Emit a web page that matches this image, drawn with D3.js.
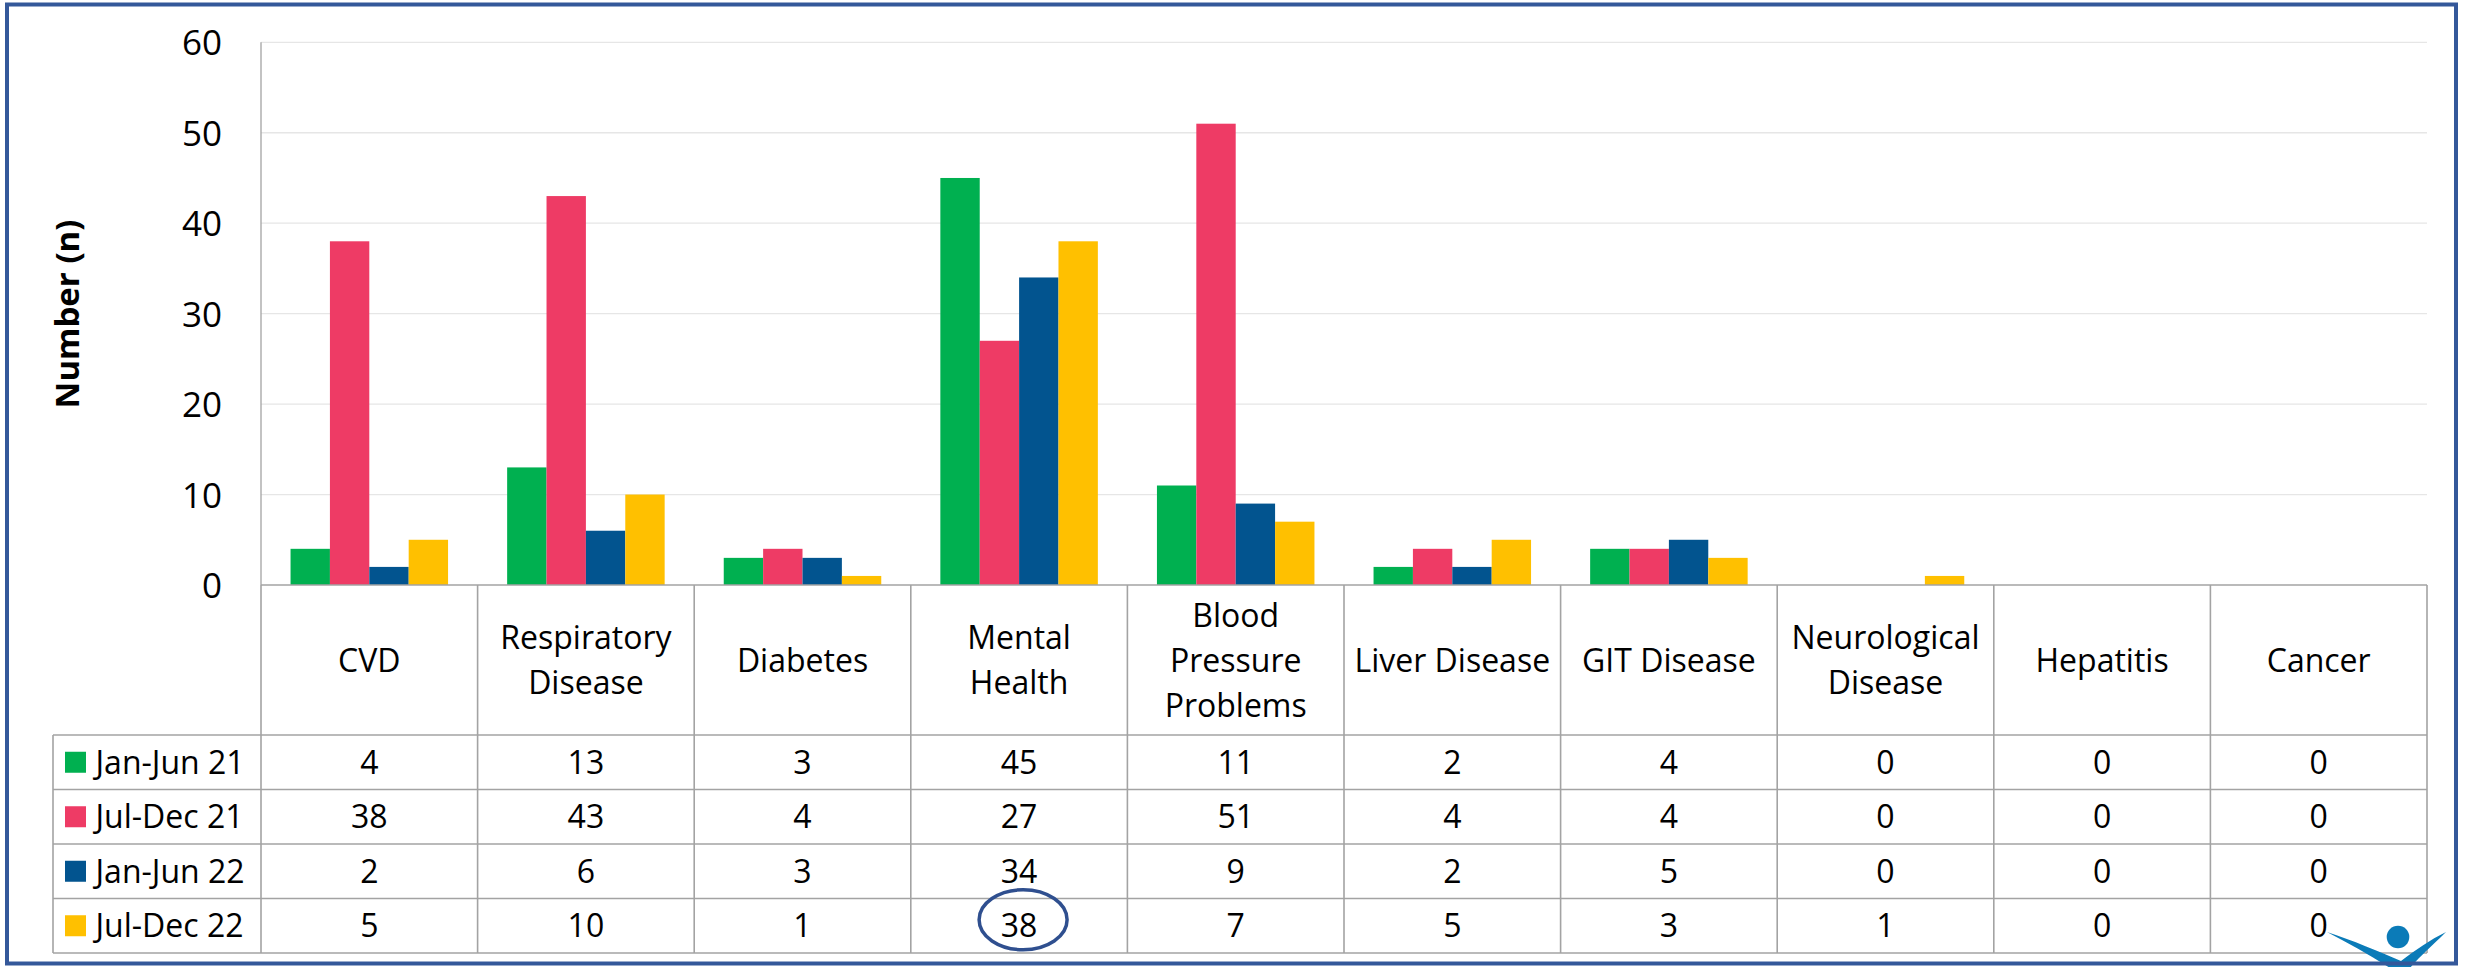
<!DOCTYPE html>
<html>
<head>
<meta charset="utf-8">
<script src="https://cdn.jsdelivr.net/npm/d3@7"></script>
<style>
  body { margin: 0; background: #fff; }
  text { font-family: "Open Sans", sans-serif; fill: #000; }
</style>
</head>
<body>
<div id="chart"></div>
<script>
// Constants for the chart
const WIDTH = 2468;
const HEIGHT = 967;
const PLOT = { left: 261, right: 2427, top: 42.3, bottom: 585 };
const TABLE_LEFT = 53;
const HEADER_BOTTOM = 735;
const ROW_HEIGHT = 54.5;

// Data
const categories = ["CVD", "Respiratory Disease", "Diabetes", "Mental Health", "Blood Pressure Problems",
  "Liver Disease", "GIT Disease", "Neurological Disease", "Hepatitis", "Cancer"];
const headerLines = [["CVD"], ["Respiratory", "Disease"], ["Diabetes"], ["Mental", "Health"],
  ["Blood", "Pressure", "Problems"], ["Liver Disease"], ["GIT Disease"], ["Neurological", "Disease"],
  ["Hepatitis"], ["Cancer"]];
const seriesNames = ["Jan-Jun 21", "Jul-Dec 21", "Jan-Jun 22", "Jul-Dec 22"];
const seriesColors = ["#00B050", "#EE3B65", "#02548F", "#FFC000"];
const janJun21 = [4, 13, 3, 45, 11, 2, 4, 0, 0, 0];
const julDec21 = [38, 43, 4, 27, 51, 4, 4, 0, 0, 0];
const janJun22 = [2, 6, 3, 34, 9, 2, 5, 0, 0, 0];
const julDec22 = [5, 10, 1, 38, 7, 5, 3, 1, 0, 0];
const yTicks = [0, 10, 20, 30, 40, 50, 60];

const seriesValues = [janJun21, julDec21, janJun22, julDec22];

const svg = d3.select("#chart").append("svg")
  .attr("width", WIDTH)
  .attr("height", HEIGHT);

svg.append("rect").attr("width", WIDTH).attr("height", HEIGHT).attr("fill", "#fff");

const x0 = d3.scaleBand()
  .domain(categories)
  .range([PLOT.left, PLOT.right])
  .paddingInner(0)
  .paddingOuter(0);

const bw = x0.bandwidth();
const x1 = d3.scaleBand()
  .domain(seriesNames)
  .range([bw * 0.1364, bw * (1 - 0.1364)]);

const y = d3.scaleLinear()
  .domain([0, 60])
  .range([PLOT.bottom, PLOT.top]);

// gridlines
svg.append("g")
  .selectAll("line")
  .data(yTicks.filter(d => d > 0))
  .enter()
  .append("line")
  .attr("x1", PLOT.left)
  .attr("x2", PLOT.right)
  .attr("y1", d => y(d))
  .attr("y2", d => y(d))
  .attr("stroke", "#E6E6E6")
  .attr("stroke-width", 1.3);

// y axis labels
const yAxis = d3.axisLeft(y).tickValues(yTicks).tickSize(0).tickPadding(39);
const yg = svg.append("g")
  .attr("transform", `translate(${PLOT.left},0)`)
  .call(yAxis);
yg.select(".domain").remove();
yg.selectAll("text")
  .style("font-family", "'Open Sans', sans-serif")
  .style("font-size", "35px")
  .attr("fill", "#000")
  .attr("dy", "0.36em");

// y title
svg.append("text")
  .attr("transform", "translate(67,314) rotate(-90)")
  .attr("text-anchor", "middle")
  .attr("dy", "0.36em")
  .style("font-size", "33px")
  .style("font-weight", "bold")
  .text("Number (n)");

// bars
seriesNames.forEach((name, si) => {
  svg.append("g")
    .selectAll("rect")
    .data(seriesValues[si])
    .enter()
    .append("rect")
    .attr("x", (d, i) => x0(categories[i]) + x1(name))
    .attr("y", d => y(d))
    .attr("width", x1.bandwidth())
    .attr("height", d => y(0) - y(d))
    .attr("fill", seriesColors[si]);
});

// axis line and table grid
const gridColor = "#A3A3A3";
const table = svg.append("g").attr("stroke", gridColor).attr("stroke-width", 1.6);

table.append("line")
  .attr("x1", PLOT.left).attr("x2", PLOT.left)
  .attr("y1", PLOT.top).attr("y2", PLOT.bottom)
  .attr("stroke-width", 1.3);

table.append("line")
  .attr("x1", PLOT.left).attr("x2", PLOT.right)
  .attr("y1", y(0)).attr("y2", y(0));

const rowEdges = d3.range(seriesNames.length + 1).map(i => HEADER_BOTTOM + i * ROW_HEIGHT);
const tableBottom = rowEdges[rowEdges.length - 1];

table.selectAll(".hline")
  .data(rowEdges)
  .enter()
  .append("line")
  .attr("class", "hline")
  .attr("x1", TABLE_LEFT).attr("x2", PLOT.right)
  .attr("y1", d => d).attr("y2", d => d);

const colEdges = categories.map(c => x0(c)).concat([PLOT.right]);
table.selectAll(".vline")
  .data(colEdges)
  .enter()
  .append("line")
  .attr("class", "vline")
  .attr("x1", d => d).attr("x2", d => d)
  .attr("y1", y(0)).attr("y2", tableBottom);

table.append("line")
  .attr("x1", TABLE_LEFT).attr("x2", TABLE_LEFT)
  .attr("y1", HEADER_BOTTOM).attr("y2", tableBottom);

// header labels
const headerMid = (y(0) + HEADER_BOTTOM) / 2;
categories.forEach((c, i) => {
  const lines = headerLines[i];
  const t = svg.append("text")
    .attr("text-anchor", "middle")
    .style("font-size", "32px");
  lines.forEach((ln, li) => {
    t.append("tspan")
      .attr("x", x0(c) + bw / 2)
      .attr("y", headerMid + (li - (lines.length - 1) / 2) * 45)
      .attr("dy", "0.36em")
      .text(ln);
  });
});

// legend cells and values
seriesNames.forEach((name, si) => {
  const cy = HEADER_BOTTOM + si * ROW_HEIGHT + ROW_HEIGHT / 2;
  svg.append("rect")
    .attr("x", 65)
    .attr("y", cy - 10.5)
    .attr("width", 21)
    .attr("height", 21)
    .attr("fill", seriesColors[si]);
  svg.append("text")
    .attr("x", 95.5)
    .attr("y", cy)
    .attr("dy", "0.36em")
    .style("font-size", "32px")
    .text(name);
  svg.append("g")
    .selectAll("text")
    .data(seriesValues[si])
    .enter()
    .append("text")
    .attr("x", (d, i) => x0(categories[i]) + bw / 2)
    .attr("y", cy)
    .attr("dy", "0.36em")
    .attr("text-anchor", "middle")
    .style("font-size", "32px")
    .text(d => d);
});

// highlight ring round the Jul-Dec 22 Mental Health value
const ringRow = HEADER_BOTTOM + 3 * ROW_HEIGHT + ROW_HEIGHT / 2;
svg.append("ellipse")
  .attr("cx", x0("Mental Health") + bw / 2 + 4)
  .attr("cy", ringRow - 6)
  .attr("rx", 44)
  .attr("ry", 30)
  .attr("fill", "none")
  .attr("stroke", "#2F4F8F")
  .attr("stroke-width", 3.5);

// little logo in the corner
const logo = svg.append("g").attr("fill", "#0B7BB8");
logo.append("circle").attr("cx", 2398).attr("cy", 937).attr("r", 11.3);
logo.append("path")
  .attr("d", "M2327,932 C2352,940 2380,952 2401,961 C2415,950 2430,940 2446,932 C2432,946 2420,956 2410,968 L2390,968 C2370,955 2348,943 2327,932 Z");

// outer frame
svg.append("rect")
  .attr("x", 7)
  .attr("y", 4.5)
  .attr("width", 2449)
  .attr("height", 459.5 * 2 + 40)
  .attr("fill", "none")
  .attr("stroke", "#34589A")
  .attr("stroke-width", 4);
</script>
</body>
</html>
